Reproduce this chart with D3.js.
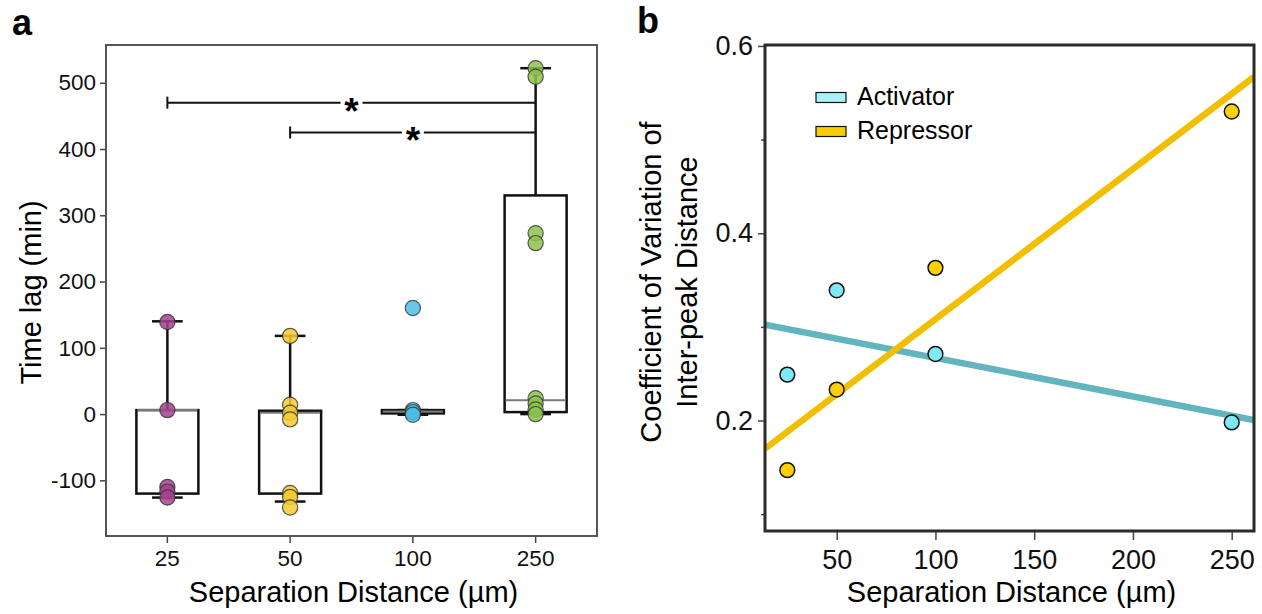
<!DOCTYPE html>
<html>
<head>
<meta charset="utf-8">
<script src="https://cdn.jsdelivr.net/npm/d3@7"></script>
<style>
  body { margin: 0; background: #fff; }
  svg { display: block; font-family: "Liberation Sans", Arial, sans-serif; }
</style>
</head>
<body>
<div id="chart"></div>
<script>
// panel a: time lag per separation distance
const groups = ["25", "50", "100", "250"]
const groupColors = ["#A6428F", "#F4CB2F", "#4DBDE6", "#8DC24C"]
const lag25 = [139, 6, -110, -117, -126]
const lag50 = [118, 14, 2, -8, -119, -125, -141]
const lag100 = [160, 6, 3, -1]
const lag250 = [522, 509, 273, 258, 24, 16, 7, 0]
const lagValues = [lag25, lag50, lag100, lag250]
const boxQ1 = [-120, -120, 1, 3]
const boxMedian = [6, 2, 4, 21]
const boxQ3 = [6, 5, 6, 330]
const whiskerLow = [-126, -132, -1, 0]
const whiskerHigh = [140, 118, 6, 522]
const lagTicks = [-100, 0, 100, 200, 300, 400, 500]
// significance brackets: from group, to group, height (min)
const sigFrom = ["25", "50"]
const sigTo = ["250", "250"]
const sigLevel = [470, 425]

// panel b: CV of inter-peak distance
const distances = [25, 50, 100, 250]
const cvActivator = [0.249, 0.339, 0.271, 0.198]
const cvRepressor = [0.147, 0.233, 0.363, 0.530]
const cvMajorTicks = [0.2, 0.4, 0.6]
const cvMinorTicks = [0.1, 0.3, 0.5]
const distTicks = [50, 100, 150, 200, 250]
const seriesNames = ["Activator", "Repressor"]

const width = 1262
const height = 614

const svg = d3.select("#chart").append("svg")
    .attr("width", width)
    .attr("height", height)

function styleAxis(g, size) {
    g.select(".domain").remove()
    g.selectAll("line").attr("stroke", "#444").attr("stroke-width", 1.5)
    g.selectAll("text").attr("font-size", size).attr("fill", "#111")
        .attr("font-family", "'Liberation Sans', Arial, sans-serif")
}

// ---------- panel a ----------
const xA = d3.scaleBand().domain(groups).range([106, 597]).padding(0)
const yA = d3.scaleLinear().domain([-184, 557]).range([536, 45])
const boxW = xA.bandwidth() * 0.505
const capW = xA.bandwidth() * 0.25

const gA = svg.append("g")

gA.append("g")
    .attr("transform", `translate(${xA.range()[0]},0)`)
    .call(d3.axisLeft(yA).tickValues(lagTicks).tickFormat(d => String(d)).tickSize(6).tickPadding(4))
    .call(g => styleAxis(g, 22.5))

gA.append("g")
    .attr("transform", `translate(0,${yA.range()[0]})`)
    .call(d3.axisBottom(xA).tickSize(7).tickPadding(7))
    .call(g => styleAxis(g, 22.5))

const cx = g => xA(g) + xA.bandwidth() / 2

groups.forEach((grp, i) => {
    const c = cx(grp)
    // whiskers
    gA.append("line").attr("x1", c).attr("x2", c)
        .attr("y1", yA(boxQ3[i])).attr("y2", yA(whiskerHigh[i]))
        .attr("stroke", "#111").attr("stroke-width", 2.5)
    gA.append("line").attr("x1", c).attr("x2", c)
        .attr("y1", yA(boxQ1[i])).attr("y2", yA(whiskerLow[i]))
        .attr("stroke", "#111").attr("stroke-width", 2.5)
    ;[whiskerHigh[i], whiskerLow[i]].forEach(v => {
        gA.append("line").attr("x1", c - capW / 2).attr("x2", c + capW / 2)
            .attr("y1", yA(v)).attr("y2", yA(v))
            .attr("stroke", "#111").attr("stroke-width", 2.5)
    })
    // box
    gA.append("rect")
        .attr("x", c - boxW / 2).attr("width", boxW)
        .attr("y", yA(boxQ3[i])).attr("height", Math.max(yA(boxQ1[i]) - yA(boxQ3[i]), 0.5))
        .attr("fill", "none")
        .attr("stroke", "#111").attr("stroke-width", 2.5)
    gA.append("line").attr("x1", c - boxW / 2 + 1).attr("x2", c + boxW / 2 - 1)
        .attr("y1", yA(boxMedian[i])).attr("y2", yA(boxMedian[i]))
        .attr("stroke", "#7a7a7a").attr("stroke-width", 2)
})

groups.forEach((grp, i) => {
    gA.selectAll(null).data(lagValues[i]).enter().append("circle")
        .attr("cx", cx(grp))
        .attr("cy", d => yA(d))
        .attr("r", 7.6)
        .attr("fill", groupColors[i])
        .attr("fill-opacity", 0.85)
        .attr("stroke", "#333")
        .attr("stroke-opacity", 0.8)
        .attr("stroke-width", 1.2)
})

// significance brackets
sigFrom.forEach((from, i) => {
    const x1 = cx(from), x2 = cx(sigTo[i]), y = yA(sigLevel[i])
    const mid = (x1 + x2) / 2
    const gap = 11
    gA.append("line").attr("x1", x1).attr("x2", mid - gap).attr("y1", y).attr("y2", y)
        .attr("stroke", "#111").attr("stroke-width", 2)
    gA.append("line").attr("x1", mid + gap).attr("x2", x2).attr("y1", y).attr("y2", y)
        .attr("stroke", "#111").attr("stroke-width", 2)
    gA.append("line").attr("x1", x1).attr("x2", x1).attr("y1", y - 6).attr("y2", y + 6)
        .attr("stroke", "#111").attr("stroke-width", 2)
    gA.append("text").attr("x", mid).attr("y", y + 21)
        .attr("text-anchor", "middle").attr("font-size", 37).attr("font-weight", "bold")
        .text("*")
})

gA.append("rect")
    .attr("x", xA.range()[0]).attr("y", yA.range()[1])
    .attr("width", xA.range()[1] - xA.range()[0])
    .attr("height", yA.range()[0] - yA.range()[1])
    .attr("fill", "none").attr("stroke", "#555").attr("stroke-width", 2)

gA.append("text")
    .attr("transform", `translate(41,${(yA.range()[0] + yA.range()[1]) / 2 + 2}) rotate(-90)`)
    .attr("text-anchor", "middle").attr("font-size", 29)
    .text("Time lag (min)")

gA.append("text")
    .attr("x", (xA.range()[0] + xA.range()[1]) / 2 + 2).attr("y", 602)
    .attr("text-anchor", "middle").attr("font-size", 29)
    .text("Separation Distance (µm)")

svg.append("text").attr("x", 12).attr("y", 35)
    .attr("font-size", 36).attr("font-weight", "bold").text("a")

// ---------- panel b ----------
const xB = d3.scaleLinear().domain([13.7, 261.3]).range([765, 1254])
const yB = d3.scaleLinear().domain([0.082, 0.601]).range([531, 45])

const gB = svg.append("g")

gB.append("g")
    .attr("transform", `translate(${xB.range()[0]},0)`)
    .call(d3.axisLeft(yB).tickValues(cvMajorTicks).tickFormat(d3.format(".1f")).tickSize(7).tickPadding(5))
    .call(g => styleAxis(g, 27))
gB.append("g")
    .attr("transform", `translate(${xB.range()[0]},0)`)
    .call(d3.axisLeft(yB).tickValues(cvMinorTicks).tickFormat("").tickSize(4))
    .call(g => styleAxis(g, 27))
gB.append("g")
    .attr("transform", `translate(0,${yB.range()[0]})`)
    .call(d3.axisBottom(xB).tickValues(distTicks).tickSize(9).tickPadding(10))
    .call(g => styleAxis(g, 27))

function fit(xs, ys) {
    const mx = d3.mean(xs), my = d3.mean(ys)
    const sxy = d3.sum(xs, (x, i) => (x - mx) * (ys[i] - my))
    const sxx = d3.sum(xs, x => (x - mx) * (x - mx))
    const slope = sxy / sxx
    return x => my + slope * (x - mx)
}

const series = [
    {name: seriesNames[0], values: cvActivator, line: "#62B5BF", fill: "#7EEAF8", key: "#AAF1FA"},
    {name: seriesNames[1], values: cvRepressor, line: "#F2BF00", fill: "#FFD000", key: "#F8CE00"}
]

gB.append("clipPath").attr("id", "clipB").append("rect")
    .attr("x", xB.range()[0]).attr("y", yB.range()[1])
    .attr("width", xB.range()[1] - xB.range()[0])
    .attr("height", yB.range()[0] - yB.range()[1])

series.forEach(s => {
    const f = fit(distances, s.values)
    gB.append("path")
        .datum(xB.domain())
        .attr("clip-path", "url(#clipB)")
        .attr("d", d3.line().x(d => xB(d)).y(d => yB(f(d))))
        .attr("stroke", s.line).attr("stroke-width", 6.5).attr("fill", "none")
})

series.forEach(s => {
    gB.selectAll(null).data(s.values).enter().append("circle")
        .attr("cx", (d, i) => xB(distances[i]))
        .attr("cy", d => yB(d))
        .attr("r", 7.4)
        .attr("fill", s.fill)
        .attr("stroke", "#111")
        .attr("stroke-width", 1.5)
})

const legend = gB.append("g").attr("transform", "translate(816,92)")
series.forEach((s, i) => {
    const row = legend.append("g").attr("transform", `translate(0,${i * 34})`)
    row.append("rect").attr("x", 0).attr("y", 0.5).attr("width", 30).attr("height", 10)
        .attr("fill", s.key).attr("stroke", "#111").attr("stroke-width", 1.2)
    row.append("text").attr("x", 41).attr("y", 13).attr("font-size", 25).text(s.name)
})

gB.append("rect")
    .attr("x", xB.range()[0]).attr("y", yB.range()[1])
    .attr("width", xB.range()[1] - xB.range()[0])
    .attr("height", yB.range()[0] - yB.range()[1])
    .attr("fill", "none").attr("stroke", "#2b2b2b").attr("stroke-width", 3)

const labB = gB.append("text")
    .attr("transform", `translate(0,${(yB.range()[0] + yB.range()[1]) / 2 - 6}) rotate(-90)`)
    .attr("text-anchor", "middle").attr("font-size", 29)
labB.append("tspan").attr("x", 0).attr("y", 661).text("Coefficient of Variation of")
labB.append("tspan").attr("x", 0).attr("y", 697).text("Inter-peak Distance")

gB.append("text")
    .attr("x", (xB.range()[0] + xB.range()[1]) / 2 + 2).attr("y", 602)
    .attr("text-anchor", "middle").attr("font-size", 29)
    .text("Separation Distance (µm)")

svg.append("text").attr("x", 637).attr("y", 33)
    .attr("font-size", 36).attr("font-weight", "bold").text("b")
</script>
</body>
</html>
